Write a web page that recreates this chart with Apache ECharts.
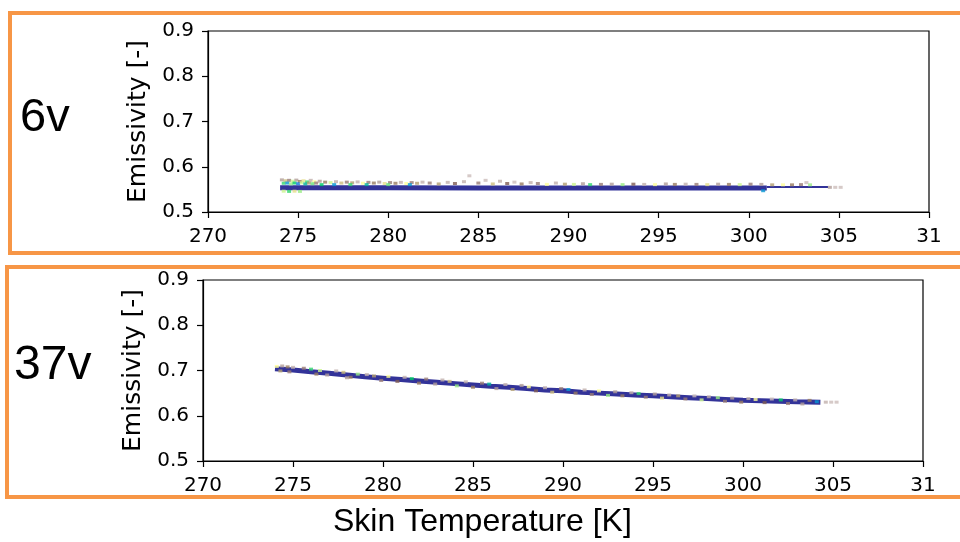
<!DOCTYPE html>
<html>
<head>
<meta charset="utf-8">
<script src="https://cdn.jsdelivr.net/npm/echarts@6/dist/echarts.min.js"></script>
<style>
html,body{margin:0;padding:0;background:#fff;}
#chart{width:960px;height:542px;}
</style>
</head>
<body>
<div id="chart"></div>
<script>
// ---- data ----
const panelLabels = ['6v', '37v'];
const xTickLabels = ['270','275','280','285','290','295','300','305','31'];
const yTickLabels = ['0.5','0.6','0.7','0.8','0.9'];
const xAxisTitle = 'Skin Temperature [K]';
const yAxisTitle = 'Emissivity [-]';

// 6v: dense core of the 2-D histogram (skin temperature K, emissivity)
const core6v = [[274.0,0.5535],[280,0.5535],[285,0.5533],[290,0.5532],[295,0.5532],[301.0,0.5532]];
const tail6v = [[301.0,0.5550],[304.4,0.5553]];
// 6v: sparse bins [temperature, emissivity, relative density]
const sparse6v = [
 [274.1,0.5710,0.15],[274.3,0.5690,0.4],[274.5,0.5700,0.2],[274.7,0.5680,0.55],[274.9,0.5705,0.15],
 [275.1,0.5675,0.3],[275.3,0.5690,0.45],[275.5,0.5665,0.7],[275.7,0.5700,0.12],[275.9,0.5670,0.5],
 [274.2,0.5635,0.7],[274.4,0.5640,0.85],[274.6,0.5620,0.6],[274.8,0.5640,0.75],[275.0,0.5625,0.9],
 [275.2,0.5645,0.55],[275.4,0.5620,0.8],[275.6,0.5640,0.35],[275.8,0.5625,0.65],[276.0,0.5640,0.2],
 [274.2,0.5460,0.55],[274.5,0.5455,0.7],[274.8,0.5460,0.45],[275.1,0.5455,0.6],
 [276.2,0.5680,0.15],[276.5,0.5660,0.3],[276.8,0.5650,0.55],[277.1,0.5670,0.12],[277.4,0.5640,0.4],
 [277.7,0.5660,0.2],[278.0,0.5645,0.35],[278.3,0.5665,0.12],[278.6,0.5635,0.5],[278.9,0.5655,0.2],
 [279.2,0.5640,0.3],[279.5,0.5660,0.15],[279.8,0.5630,0.45],[280.1,0.5650,0.2],[280.4,0.5635,0.3],
 [280.7,0.5655,0.12],[281.0,0.5630,0.5],[281.3,0.5650,0.2],[281.6,0.5635,0.35],[281.9,0.5660,0.12],
 [276.3,0.5605,0.75],[277.0,0.5605,0.85],[277.9,0.5605,0.7],[278.8,0.5605,0.8],[280.0,0.5605,0.65],[281.2,0.5605,0.85],
 [282.3,0.5640,0.2],[282.8,0.5620,0.35],[283.3,0.5655,0.12],[283.7,0.5630,0.25],[284.2,0.5670,0.12],
 [284.5,0.5800,0.1],[285.0,0.5640,0.2],[285.4,0.5700,0.1],[285.8,0.5620,0.4],[286.2,0.5680,0.12],
 [286.6,0.5630,0.25],[287.0,0.5660,0.1],[287.4,0.5620,0.3],[287.9,0.5650,0.12],[288.3,0.5630,0.2],
 [288.8,0.5610,0.5],[289.3,0.5640,0.12],[289.8,0.5615,0.35],[290.3,0.5610,0.55],[290.8,0.5625,0.15],
 [291.2,0.5605,0.7],[291.8,0.5610,0.2],[292.4,0.5615,0.15],[293.0,0.5605,0.6],[293.6,0.5615,0.25],
 [294.2,0.5610,0.12],[294.8,0.5605,0.5],[295.4,0.5620,0.15],[295.9,0.5610,0.3],[296.5,0.5615,0.12],
 [297.1,0.5610,0.2],[297.7,0.5605,0.45],[298.3,0.5615,0.15],[298.9,0.5610,0.3],[299.5,0.5605,0.55],
 [300.1,0.5615,0.2],[300.7,0.5610,0.15],[301.3,0.5600,0.35],[301.9,0.5600,0.5],[302.4,0.5600,0.3],
 [302.9,0.5605,0.2],[303.2,0.5650,0.1],[303.4,0.5600,0.6],[300.8,0.5470,0.85],
 [304.5,0.5545,0.15],[304.8,0.5545,0.1],[305.1,0.5545,0.1]
];

// 37v: dense core
const core37v = [
 [274,0.704],[275,0.701],[276,0.697],[277,0.694],[278,0.690],[279,0.686],[280,0.683],[281,0.680],
 [282,0.677],[283,0.674],[284,0.671],[285,0.668],[286,0.665],[287,0.663],[288,0.660],[289,0.657],
 [290,0.655],[291,0.652],[292,0.650],[293,0.648],[294,0.646],[295,0.644],[296,0.642],[297,0.640],
 [298,0.638],[299,0.636],[300,0.634],[301,0.633],[302,0.632],[303,0.631],[304.3,0.630]
];
// 37v: sparse bins
const sparse37v = [
 [274.1,0.709,0.5],[274.4,0.710,0.15],[274.7,0.708,0.3],[275.0,0.707,0.12],[274.3,0.699,0.35],[274.8,0.697,0.2],
 [275.6,0.705,0.2],[276.0,0.703,0.7],[276.5,0.700,0.55],[276.3,0.692,0.3],[276.9,0.690,0.15],
 [277.4,0.699,0.12],[277.8,0.696,0.4],[278.2,0.685,0.3],[278.6,0.692,0.6],[278.0,0.684,0.15],
 [279.1,0.691,0.12],[279.5,0.688,0.35],[279.9,0.678,0.2],[280.3,0.687,0.5],[280.8,0.676,0.25],
 [281.2,0.685,0.12],[281.6,0.682,0.75],[282.0,0.672,0.3],[282.4,0.681,0.2],[282.9,0.670,0.15],
 [283.3,0.679,0.12],[283.7,0.676,0.4],[284.1,0.666,0.6],[284.6,0.675,0.12],[285.0,0.663,0.3],
 [285.5,0.672,0.2],[285.9,0.670,0.8],[286.3,0.660,0.15],[286.8,0.669,0.12],[287.2,0.658,0.35],
 [287.7,0.667,0.15],[288.1,0.664,0.5],[288.5,0.655,0.25],[289.0,0.662,0.12],[289.4,0.652,0.4],
 [289.9,0.660,0.2],[290.3,0.658,0.85],[290.7,0.650,0.3],[291.2,0.657,0.12],[291.6,0.647,0.2],
 [292.0,0.655,0.5],[292.5,0.645,0.6],[292.9,0.653,0.15],[293.3,0.644,0.3],[293.8,0.651,0.12],
 [294.2,0.649,0.7],[294.6,0.641,0.2],[295.1,0.648,0.15],[295.5,0.639,0.45],[295.9,0.646,0.12],
 [296.4,0.644,0.35],[296.8,0.637,0.2],[297.3,0.644,0.1],[297.7,0.635,0.55],[298.1,0.642,0.12],
 [298.6,0.640,0.6],[299.0,0.632,0.2],[299.4,0.639,0.15],[299.9,0.630,0.3],[300.3,0.638,0.12],
 [300.7,0.636,0.5],[301.2,0.629,0.25],[301.6,0.637,0.1],[302.1,0.635,0.75],[302.5,0.627,0.2],
 [302.9,0.635,0.12],[303.3,0.626,0.15],[303.7,0.634,0.3],[304.1,0.631,0.85],
 [304.6,0.630,0.12],[304.9,0.630,0.1],[305.2,0.630,0.1]
];

// ---- chart ----
const chart = echarts.init(document.getElementById('chart'), null, {renderer:'canvas'});
const tickFont = {fontFamily:'DejaVu Sans', fontSize:20, color:'#000'};
const terrainR = ['#ffffff','#bfada9','#805c54','#bfad77','#ffff99','#80e680','#00cc66','#0888ee','#333399'];

function xAxis(gi){
  return {
    type:'value', gridIndex:gi, min:270, max:310, interval:5,
    axisLine:{show:true, onZero:false, lineStyle:{color:'#000', width:1.2}},
    axisTick:{show:true, inside:false, length:6, lineStyle:{color:'#000', width:1.2}},
    splitLine:{show:false},
    axisLabel:Object.assign({margin:15, formatter:v => xTickLabels[Math.round((v-270)/5)]}, tickFont)
  };
}
function yAxis(gi){
  return {
    type:'value', gridIndex:gi, min:0.5, max:0.9, interval:0.1,
    name:yAxisTitle, nameLocation:'middle', nameGap:56, nameRotate:90,
    nameTextStyle:{fontFamily:'DejaVu Sans', fontSize:25, color:'#000'},
    axisLine:{show:true, onZero:false, lineStyle:{color:'#000', width:1.2}},
    axisTick:{show:true, inside:false, length:6, lineStyle:{color:'#000', width:1.2}},
    splitLine:{show:false},
    axisLabel:Object.assign({margin:14, formatter:v => yTickLabels[Math.round((v-0.5)/0.1)]}, tickFont)
  };
}
const lineSeries = (data, xi, w) => ({
  type:'line', xAxisIndex:xi, yAxisIndex:xi, data:data, showSymbol:false, symbol:'none',
  lineStyle:{color:'#333399', width:w, cap:'butt'}, z:3, silent:true, animation:false
});
const sparseSeries = (data, xi) => ({
  type:'scatter', xAxisIndex:xi, yAxisIndex:xi, data:data, symbol:'rect', symbolSize:[4,3],
  z:4, silent:true, animation:false
});

chart.setOption({
  animation:false,
  backgroundColor:'#fff',
  grid:[
    {left:208, top:31, width:721, height:181, show:true, borderColor:'#000', borderWidth:1.2, backgroundColor:'#fff'},
    {left:203, top:280, width:720, height:181, show:true, borderColor:'#000', borderWidth:1.2, backgroundColor:'#fff'}
  ],
  xAxis:[xAxis(0), xAxis(1)],
  yAxis:[yAxis(0), yAxis(1)],
  visualMap:{show:false, type:'continuous', dimension:2, min:0, max:1, seriesIndex:[2,4], inRange:{color:terrainR}},
  series:[
    lineSeries(core6v, 0, 5),
    lineSeries(tail6v, 0, 2),
    sparseSeries(sparse6v, 0),
    lineSeries(core37v, 1, 5),
    sparseSeries(sparse37v, 1)
  ],
  graphic:[
    {type:'rect', shape:{x:10, y:13, width:1000, height:240}, style:{fill:'none', stroke:'#F79646', lineWidth:4}, z:10},
    {type:'rect', shape:{x:7, y:267, width:1000, height:230}, style:{fill:'none', stroke:'#F79646', lineWidth:4}, z:10},
    {type:'text', left:20, top:95, style:{text:panelLabels[0], font:'47px "Liberation Sans", Arial, sans-serif', fill:'#000'}},
    {type:'text', left:14, top:342, style:{text:panelLabels[1], font:'48px "Liberation Sans", Arial, sans-serif', fill:'#000'}},
    {type:'text', left:333, top:506, style:{text:xAxisTitle, font:'32px "Liberation Sans", Arial, sans-serif', fill:'#000'}}
  ]
});
</script>
</body>
</html>
